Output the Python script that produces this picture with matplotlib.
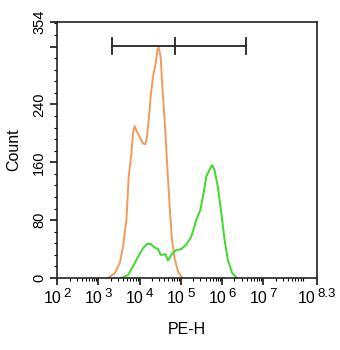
import matplotlib
matplotlib.use("Agg")
import matplotlib.pyplot as plt
import matplotlib.transforms as mtransforms
import numpy as np
from matplotlib.ticker import FixedLocator, NullFormatter

plt.rcParams['font.family'] = ['Liberation Sans', 'DejaVu Sans']

# Orange histogram (log10 PE-H, count)
orange_log = [3.235, 3.397, 3.518, 3.598, 3.680, 3.736, 3.801, 3.840, 3.881, 3.937,
              4.002, 4.082, 4.140, 4.179, 4.228, 4.269, 4.324, 4.390, 4.431, 4.462,
              4.511, 4.552, 4.608, 4.663, 4.729, 4.785, 4.850, 4.930, 5.036]
orange_cnt = [0, 6.5, 20, 43, 80, 140, 172, 200, 210, 202,
              195, 186, 185, 195, 223, 251, 278, 297, 315, 319,
              306, 265, 218, 163, 99, 53, 27, 9, 0]

# Green histogram
green_log = [3.559, 3.719, 3.840, 3.961, 4.082, 4.179, 4.269, 4.366, 4.446, 4.511,
             4.567, 4.625, 4.688, 4.770, 4.874, 5.012, 5.133, 5.254, 5.375, 5.472,
             5.552, 5.617, 5.697, 5.763, 5.818, 5.898, 5.981, 6.061, 6.140, 6.247, 6.358]
green_cnt = [0, 4, 16, 29, 41, 47, 47, 42, 40, 32,
             32, 33, 24, 32, 38, 40, 46, 57, 80, 94,
             117, 140, 150, 156, 149, 126, 90, 53, 25, 6.5, 0]

# Gate marker
gate_log = [3.32, 4.85, 6.59]
gate_y = 321
gate_half = 11

xtick_exp = ['2', '3', '4', '5', '6', '7', '8.3']
ytick_vals = [0, 80, 160, 240, 320, 354]
ytick_labels = ['0', '80', '160', '240', '', '354']

fig = plt.figure(figsize=(3.4, 3.5), dpi=100)
ax = fig.add_axes([0.168, 0.206, 0.764, 0.731])

ax.plot(10 ** np.array(orange_log), orange_cnt, color='#F29A5A', lw=1.4)
ax.plot(10 ** np.array(green_log), green_cnt, color='#3BDB2A', lw=1.4)

ax.plot([10 ** gate_log[0], 10 ** gate_log[-1]], [gate_y, gate_y], color='#222222', lw=1.3)
for g in gate_log:
    ax.plot([10 ** g, 10 ** g], [gate_y - gate_half, gate_y + gate_half], color='#222222', lw=1.3)

ax.set_xscale('log')
ax.set_xlim(10 ** 2, 10 ** 8.3)
ax.set_ylim(0, 354)

xt = [10 ** float(e) for e in xtick_exp]
ax.xaxis.set_major_locator(FixedLocator(xt))
ax.xaxis.set_major_formatter(NullFormatter())
minors = []
for d in range(2, 9):
    for m in range(2, 10):
        v = m * 10 ** d
        if v < 10 ** 8.3:
            minors.append(v)
ax.xaxis.set_minor_locator(FixedLocator(minors))
ax.xaxis.set_minor_formatter(NullFormatter())

# manual x tick labels: "10" plus raised exponent
base_fs = 11.5
exp_fs = 9.5
def adv(s, fs):
    w = 0.0
    for c in s:
        w += (0.278 if c == '.' else 0.556) * fs
    return w
trans = mtransforms.blended_transform_factory(ax.transData, ax.transAxes)
for e, v in zip(xtick_exp, xt):
    wb = adv('10', base_fs)
    we = adv(e, exp_fs)
    gap = 1.5
    total = wb + gap + we
    x0 = -total / 2
    ax.annotate('10', xy=(v, 0), xycoords=trans, xytext=(x0, -18), textcoords='offset points',
                ha='left', va='baseline', fontsize=base_fs, annotation_clip=False)
    ax.annotate(e, xy=(v, 0), xycoords=trans, xytext=(x0 + wb + gap, -14), textcoords='offset points',
                ha='left', va='baseline', fontsize=exp_fs, annotation_clip=False)

ax.yaxis.set_major_locator(FixedLocator(ytick_vals))
ax.set_yticklabels(ytick_labels, fontsize=10.5, rotation=90, va='center')
ax.yaxis.set_minor_locator(FixedLocator(list(range(16, 354, 16))))

ax.tick_params(axis='both', which='major', length=5, width=1.1, direction='out', pad=3)
ax.tick_params(axis='both', which='minor', length=2.5, width=0.8, direction='out')
for s in ax.spines.values():
    s.set_linewidth(1.2)
    s.set_color('#222222')

ax.set_xlabel('PE-H', fontsize=11.5, labelpad=24)
ax.set_ylabel('Count', fontsize=11.5, labelpad=8)

fig.savefig('out.png', dpi=100)
